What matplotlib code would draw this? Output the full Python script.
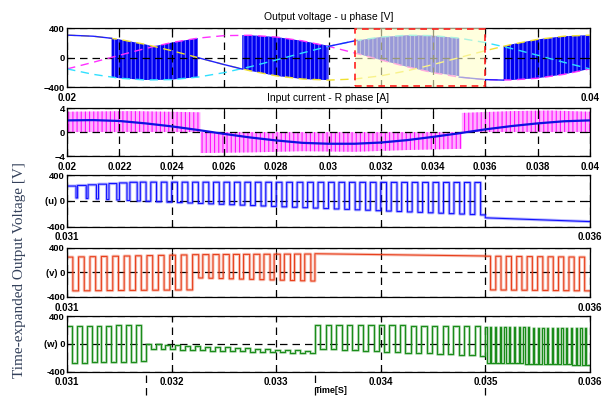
import numpy as np
import matplotlib.pyplot as plt
from matplotlib.patches import Rectangle

plt.rcParams['font.family'] = ['Liberation Sans Narrow', 'Liberation Sans', 'DejaVu Sans']
plt.rcParams['font.size'] = 7
plt.rcParams['font.weight'] = 'bold'
plt.rcParams['hatch.linewidth'] = 0.8

# 입력 3상 전압 (1ms 간격으로 읽은 값)
tIn = np.linspace(0.02, 0.04, 21)
va = [305, 290, 247, 179, 94, 0, -94, -179, -247, -290, -305, -290, -247, -179, -94, 0, 94, 179, 247, 290, 305]
vb = [-153, -63, 32, 124, 204, 264, 298, 303, 279, 227, 153, 63, -32, -124, -204, -264, -298, -303, -279, -227, -153]
vc = [-153, -227, -279, -303, -298, -264, -204, -124, -32, 63, 153, 227, 279, 303, 298, 264, 204, 124, 32, -63, -153]

# 출력 전압 u상 : 스위칭 구간 (상한/하한)
blk1T = [0.0217, 0.022, 0.023, 0.0233, 0.024, 0.025]
blk1Hi = [262, 247, 179, 152, 204, 264]
blk1Lo = [-266, -279, -303, -303, -298, -264]
blk2T = [0.0267, 0.027, 0.028, 0.029, 0.030]
blk2Hi = [305, 303, 279, 227, 160]
blk2Lo = [-155, -179, -247, -290, -305]
blk3T = [0.0311, 0.032, 0.033, 0.034, 0.035]
blk3Hi = [233, 279, 303, 298, 264]
blk3Lo = [54, -32, -124, -204, -250]
blk4T = [0.0367, 0.037, 0.038, 0.039, 0.040]
blk4Hi = [155, 179, 247, 290, 305]
blk4Lo = [-305, -303, -279, -227, -153]
# 한 상만 따라가는 구간
lineAT = [0.020, 0.021, 0.0217]
lineAV = [305, 290, 262]
lineBT = [0.025, 0.026, 0.0267]
lineBV = [0, -94, -155]
lineCT = [0.030, 0.031, 0.0311]
lineCV = [153, 227, 233]
lineDT = [0.035, 0.036, 0.0367]
lineDV = [-264, -298, -305]

# 입력 전류 R상
curPos1T = [0.020, 0.0225, 0.0251]
curPos1V = [3.4, 3.5, 3.3]
curNegT = [0.0251, 0.027, 0.029, 0.031, 0.033, 0.0351]
curNegV = [-3.5, -3.4, -3.2, -3.3, -3.0, -2.8]
curPos2T = [0.0351, 0.037, 0.0385, 0.040]
curPos2V = [3.2, 3.5, 3.6, 3.4]
curFiltT = np.linspace(0.02, 0.04, 21)
curFiltV = [1.95, 2.0, 1.85, 1.45, 0.95, 0.35, -0.3, -0.9, -1.4, -1.8, -1.95, -1.95, -1.75, -1.35, -0.8,
            -0.2, 0.45, 1.0, 1.45, 1.8, 1.95]

# 확대 구간 (0.031~0.036) : [시작, 끝, 펄스수, 상한, 하한, low 비율]
uSeg = [(0.031, 0.0317, 7, (230, 288), (46, 0), (0.15, 0.3)),
        (0.0317, 0.035, 33, (290, 285), (-5, -215), (0.45, 0.45))]
uTailT = [0.035, 0.036]
uTailV = [-260, -318]

vSeg = [(0.031, 0.0322, 11, (250, 285), (-300, -285), (0.5, 0.5)),
        (0.0322, 0.03337, 12, (290, 300), (-90, -140), (0.4, 0.4))]
vFlatT = [0.03337, 0.035]
vFlatV = [305, 268]
vSeg2 = [(0.035, 0.036, 10, (265, 250), (-285, -300), (0.5, 0.5))]

wSeg = [(0.031, 0.03175, 8, (250, 270), (-270, -250), (0.5, 0.5)),
        (0.03175, 0.03337, 17, (0, -100), (-70, -135), (0.5, 0.5)),
        (0.03337, 0.035, 16, (270, 260), (-70, -170), (0.5, 0.5)),
        (0.035, 0.036, 22, (240, 230), (-270, -300), (0.75, 0.75))]
sectorT = [0.03175, 0.03337, 0.035]


def pwm(segs):
    x, y = [], []
    for t0, t1, n, hi, lo, duty in segs:
        edge = np.linspace(t0, t1, n + 1)
        h = np.linspace(hi[0], hi[1], n)
        l = np.linspace(lo[0], lo[1], n)
        d = np.linspace(duty[0], duty[1], n)
        for k in range(n):
            m = edge[k] + (edge[k + 1] - edge[k]) * (1 - d[k])
            x += [edge[k], m, m, edge[k + 1]]
            y += [h[k], h[k], l[k], l[k]]
    return x, y


def style(ax, xt, labels):
    ax.set_xticks(xt)
    ax.set_xticklabels(labels)
    ax.tick_params(direction='in', top=True, right=True, length=3)
    ax.tick_params(axis='x', pad=4)
    ax.tick_params(axis='y', pad=1.5, labelsize=6.8)
    ax.grid(True, color='k', linestyle=(0, (6, 4)), linewidth=0.9)
    for s in ax.spines.values():
        s.set_linewidth(0.9)


fig = plt.figure(figsize=(6.05, 3.96), dpi=100)
L, W = 0.111, 0.864
ax1 = fig.add_axes([L, 0.780, W, 0.149])
ax2 = fig.add_axes([L, 0.606, W, 0.121])
ax3 = fig.add_axes([L, 0.427, W, 0.131])
ax4 = fig.add_axes([L, 0.250, W, 0.124])
ax5 = fig.add_axes([L, 0.061, W, 0.141])

# [1] 출력 전압
ax1.plot(tIn, vb, color='#ff30ff', lw=1, ls=(0, (6, 4)))
ax1.plot(tIn, vc, color='#30e0ff', lw=1, ls=(0, (6, 4)))
ax1.plot(tIn, va, color='#f0e030', lw=1, ls=(0, (6, 4)))
for bt, bh, bl in [(blk1T, blk1Hi, blk1Lo), (blk2T, blk2Hi, blk2Lo), (blk3T, blk3Hi, blk3Lo), (blk4T, blk4Hi, blk4Lo)]:
    ax1.fill_between(bt, bl, bh, facecolor='#0000f0', edgecolor='#7070ff', hatch='||||', linewidth=0)
for lt, lv in [(lineAT, lineAV), (lineBT, lineBV), (lineCT, lineCV), (lineDT, lineDV)]:
    ax1.plot(lt, lv, color='#2020ff', lw=1)
ax1.plot([tIn[0], tIn[0]], [vb[0], va[0]], color='#2020ff', lw=1.2)
ax1.add_patch(Rectangle((0.031, -400), 0.005, 800, facecolor='#ffffc8', alpha=0.6, edgecolor='none', zorder=3))
ax1.add_patch(Rectangle((0.031, -390), 0.005, 780, facecolor='none', edgecolor='#ff2020', lw=1.2,
                        ls=(0, (4, 3)), zorder=4))
ax1.set_xlim(0.02, 0.04)
ax1.set_ylim(-400, 400)
ax1.set_yticks([-400, 0, 400])
xt1 = np.round(np.linspace(0.02, 0.04, 11), 3)
style(ax1, xt1, ['0.02'] + [''] * 9 + ['0.04'])
ax1.set_title('Output voltage - u phase [V]', fontsize=7.5, pad=6)

# [2] 입력 전류
ax2.fill_between(curPos1T, 0, curPos1V, facecolor='#ffb0ff', edgecolor='#ff10ff', hatch='||||', linewidth=0)
ax2.fill_between(curNegT, curNegV, 0, facecolor='#ffb0ff', edgecolor='#ff10ff', hatch='||||', linewidth=0)
ax2.fill_between(curPos2T, 0, curPos2V, facecolor='#ffb0ff', edgecolor='#ff10ff', hatch='||||', linewidth=0)
ax2.plot(curFiltT, curFiltV, color='#1010e0', lw=1.6)
ax2.set_xlim(0.02, 0.04)
ax2.set_ylim(-4, 4)
ax2.set_yticks([-4, 0, 4])
style(ax2, xt1, ['0.02', '0.022', '0.024', '0.026', '0.028', '0.03', '0.032', '0.034', '0.036', '0.038', '0.04'])
ax2.set_title('Input current - R phase [A]', fontsize=7.5, pad=5)

# [3] 확대된 출력 전압 u, v, w
xt2 = [0.031, 0.032, 0.033, 0.034, 0.035, 0.036]
ux, uy = pwm(uSeg)
ux += uTailT
uy += uTailV
vx1, vy1 = pwm(vSeg)
vx2, vy2 = pwm(vSeg2)
vx = vx1 + vFlatT + vx2
vy = vy1 + vFlatV + vy2
wx, wy = pwm(wSeg)
for ax, x, y, c, name in [(ax3, ux, uy, '#1010ff', '(u) 0'), (ax4, vx, vy, '#e8401c', '(v) 0'),
                          (ax5, wx, wy, '#1a8c1a', '(w) 0')]:
    ax.plot(x, y, color=c, lw=2.2, alpha=0.3)
    ax.plot(x, y, color=c, lw=0.8)
    ax.set_xlim(0.031, 0.036)
    ax.set_ylim(-400, 400)
    ax.set_yticks([-400, 0, 400])
    ax.set_yticklabels(['-400', name, '400'])
style(ax3, xt2, ['0.031', '', '', '', '', '0.036'])
style(ax4, xt2, ['0.031', '', '', '', '', '0.036'])
style(ax5, xt2, ['0.031', '0.032', '0.033', '0.034', '0.035', '0.036'])

# 구간 경계 점선
ax5.vlines(sectorT, -0.05, -0.45, transform=ax5.get_xaxis_transform(), colors='k', lw=0.9,
           linestyles=(0, (6, 4)), clip_on=False)
fig.text(0.548, 0.002, 'Time[S]', ha='center', va='bottom', fontsize=6.5)
fig.text(0.033, 0.318, 'Time-expanded Output Voltage [V]', rotation=90, ha='center', va='center',
         family=['Liberation Serif', 'DejaVu Serif'], fontsize=11, fontweight='normal', color='#33405a')

fig.savefig('out.png', dpi=100)
